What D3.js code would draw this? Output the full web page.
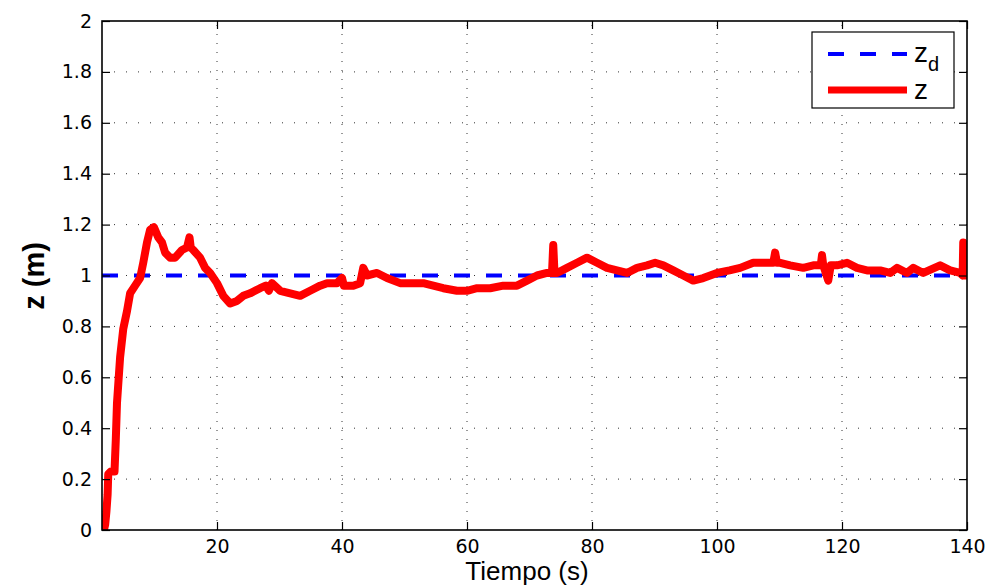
<!DOCTYPE html>
<html>
<head>
<meta charset="utf-8">
<script src="https://cdn.jsdelivr.net/npm/d3@7"></script>
<style>
  html, body { margin: 0; padding: 0; background: #fff; }
  svg { display: block; font-family: "Liberation Sans", Arial, Helvetica, sans-serif; }
</style>
</head>
<body>
<svg id="chart" width="992" height="587"></svg>
<script>
// Altitude response z(t) against the reference z_d = 1 m
const timeS = [1.9, 2.1, 2.3, 2.5, 2.6, 3.0, 3.6, 3.8, 4.0, 4.5, 5.0, 5.6, 6.1, 6.9, 7.7, 8.2, 8.8, 9.3, 9.9,
  10.6, 11.2, 11.7, 12.5, 13.3, 14.4, 15.2, 15.6, 15.8, 16.2, 17.3, 18.1, 18.9, 20.0, 21.0, 22.1, 23.2,
  24.2, 25.3, 26.9, 27.8, 28.3, 28.8, 30.1, 31.7, 33.3, 34.9, 36.5, 37.6, 39.2, 40.0, 40.3, 41.8, 42.9,
  43.4, 44.0, 45.6, 47.2, 49.3, 50.9, 53.0, 54.6, 56.2, 58.4, 60.0, 61.6, 63.7, 65.8, 68.0, 69.6, 71.2,
  72.8, 73.6, 73.8, 74.0, 74.4, 76.0, 77.6, 79.2, 80.8, 82.4, 84.0, 85.6, 87.2, 88.8, 90.1, 91.4, 93.0,
  94.6, 96.2, 97.8, 100.0, 102.0, 103.7, 105.8, 107.4, 109.0, 109.3, 109.6, 110.1, 111.7, 113.8, 115.4,
  116.6, 116.8, 117.0, 117.8, 118.2, 119.2, 120.8, 122.4, 124.0, 126.1, 127.7, 128.8, 130.4, 131.4,
  133.0, 135.7, 137.3, 138.9, 139.3, 139.4, 139.6, 139.9];
const zMeasured = [0.00, 0.02, 0.07, 0.14, 0.22, 0.23, 0.23, 0.35, 0.50, 0.68, 0.79, 0.86, 0.93, 0.96, 0.99,
  1.05, 1.13, 1.18, 1.19, 1.15, 1.13, 1.09, 1.07, 1.07, 1.10, 1.11, 1.15, 1.11, 1.10, 1.07, 1.03, 1.01,
  0.97, 0.92, 0.89, 0.90, 0.92, 0.93, 0.95, 0.96, 0.94, 0.97, 0.94, 0.93, 0.92, 0.94, 0.96, 0.97, 0.97,
  0.99, 0.96, 0.96, 0.97, 1.03, 1.00, 1.01, 0.99, 0.97, 0.97, 0.97, 0.96, 0.95, 0.94, 0.94, 0.95, 0.95,
  0.96, 0.96, 0.98, 1.00, 1.01, 1.01, 1.12, 1.01, 1.01, 1.03, 1.05, 1.07, 1.05, 1.03, 1.02, 1.01, 1.03,
  1.04, 1.05, 1.04, 1.02, 1.00, 0.98, 0.99, 1.01, 1.02, 1.03, 1.05, 1.05, 1.05, 1.09, 1.05, 1.05, 1.04,
  1.03, 1.04, 1.04, 1.08, 1.04, 0.98, 1.04, 1.04, 1.05, 1.03, 1.02, 1.02, 1.01, 1.03, 1.01, 1.03, 1.01,
  1.04, 1.02, 1.01, 1.00, 1.13, 1.00, 1.00];
const zDesired = 1;
const xRange = [1.6, 140];
const yRange = [0, 2];
const xTicks = [20, 40, 60, 80, 100, 120, 140];
const yTicks = [0, 0.2, 0.4, 0.6, 0.8, 1, 1.2, 1.4, 1.6, 1.8, 2];

const svg = d3.select("#chart");
const L = 102, R = 967, T = 21, B = 530;

const x = d3.scaleLinear().domain(xRange).range([L, R]);
const y = d3.scaleLinear().domain(yRange).range([B, T]);

// dotted grid
const grid = svg.append("g");
grid.selectAll("line.gx").data(xTicks.filter(t => t < xRange[1])).join("line")
  .attr("x1", d => x(d)).attr("x2", d => x(d)).attr("y1", B).attr("y2", T)
  .attr("stroke", "#333").attr("stroke-width", 1).attr("stroke-dasharray", "1,8");
grid.selectAll("line.gy").data(yTicks.filter(t => t > yRange[0] && t < yRange[1])).join("line")
  .attr("x1", L).attr("x2", R).attr("y1", d => y(d)).attr("y2", d => y(d))
  .attr("stroke", "#333").attr("stroke-width", 1).attr("stroke-dasharray", "1,11");

// clip to the axes box
svg.append("clipPath").attr("id", "plotClip")
  .append("rect").attr("x", L).attr("y", T).attr("width", R - L).attr("height", B - T);

const plot = svg.append("g").attr("clip-path", "url(#plotClip)");

// reference line z_d
plot.append("line")
  .attr("x1", x(xRange[0])).attr("x2", x(xRange[1]))
  .attr("y1", y(zDesired)).attr("y2", y(zDesired))
  .attr("stroke", "#0000ff").attr("stroke-width", 4).attr("stroke-dasharray", "16,16");

// measured z
const pts = timeS.map((t, i) => [t, zMeasured[i]]);
plot.append("path")
  .datum(pts)
  .attr("fill", "none")
  .attr("stroke", "#ff0000")
  .attr("stroke-width", 8)
  .attr("stroke-linejoin", "round")
  .attr("stroke-linecap", "round")
  .attr("d", d3.line().x(d => x(d[0])).y(d => y(d[1])));

// axes with inward ticks on all four sides
const fmt = d => d3.format("")(+d.toFixed(1));
const tickLen = 8;
svg.append("g").attr("transform", `translate(0,${B})`)
  .call(d3.axisBottom(x).tickValues(xTicks).tickSize(-tickLen).tickPadding(10).tickFormat(fmt))
  .call(g => g.select(".domain").remove());
svg.append("g").attr("transform", `translate(0,${T})`)
  .call(d3.axisTop(x).tickValues(xTicks).tickSize(-tickLen).tickFormat(""))
  .call(g => g.select(".domain").remove());
svg.append("g").attr("transform", `translate(${L},0)`)
  .call(d3.axisLeft(y).tickValues(yTicks).tickSize(-tickLen).tickPadding(10).tickFormat(fmt))
  .call(g => g.select(".domain").remove());
svg.append("g").attr("transform", `translate(${R},0)`)
  .call(d3.axisRight(y).tickValues(yTicks).tickSize(-tickLen).tickFormat(""))
  .call(g => g.select(".domain").remove());

svg.selectAll(".tick line").attr("stroke", "#000").attr("stroke-width", 1.2);
svg.selectAll(".tick text")
  .attr("font-family", "DejaVu Sans, Liberation Sans, Arial, sans-serif")
  .attr("font-size", 19).attr("fill", "#000");

svg.append("rect").attr("x", L).attr("y", T).attr("width", R - L).attr("height", B - T)
  .attr("fill", "none").attr("stroke", "#000").attr("stroke-width", 1.6);

// axis titles
svg.append("text").attr("x", 527).attr("y", 580).attr("text-anchor", "middle")
  .attr("font-size", 26).text("Tiempo (s)");
svg.append("text").attr("transform", "translate(44,276) rotate(-90)").attr("text-anchor", "middle")
  .attr("font-size", 29).attr("font-weight", "bold").text("z (m)");

// legend
const lg = svg.append("g");
lg.append("rect").attr("x", 812).attr("y", 32).attr("width", 142).attr("height", 76)
  .attr("fill", "#fff").attr("stroke", "#000").attr("stroke-width", 1.2);
lg.append("line").attr("x1", 828).attr("x2", 907).attr("y1", 54).attr("y2", 54)
  .attr("stroke", "#0000ff").attr("stroke-width", 4).attr("stroke-dasharray", "16,16");
lg.append("line").attr("x1", 828).attr("x2", 907).attr("y1", 90).attr("y2", 90)
  .attr("stroke", "#ff0000").attr("stroke-width", 7);
const t1 = lg.append("text").attr("x", 914).attr("y", 62).attr("font-size", 28);
t1.append("tspan").text("z");
t1.append("tspan").attr("dy", 9).attr("font-size", 20).text("d");
lg.append("text").attr("x", 914).attr("y", 99).attr("font-size", 28).text("z");
</script>
</body>
</html>
